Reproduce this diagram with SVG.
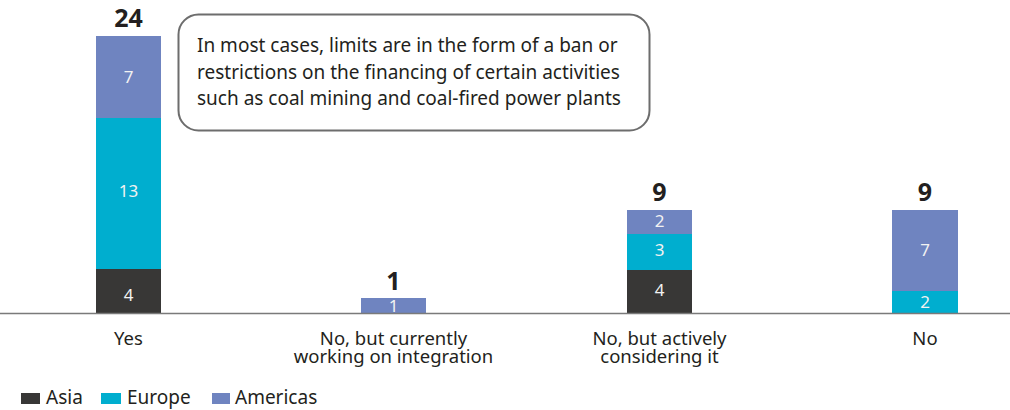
<svg xmlns="http://www.w3.org/2000/svg" width="1010" height="410" viewBox="0 0 1010 410">
<style>
.asia{fill:#383736}
.eur{fill:#00AECF}
.am{fill:#6F84C0}
.val{font-family:"Noto Sans","Open Sans",sans-serif;font-size:17px;fill:#f2f2f2;text-anchor:middle}
.tot{font-family:"Noto Sans","Open Sans",sans-serif;font-size:25px;font-weight:bold;fill:#231f20;text-anchor:middle}
.cat{font-family:"Noto Sans","Open Sans",sans-serif;font-size:18.5px;fill:#231f20;text-anchor:middle}
.leg{font-family:"Noto Sans","Open Sans",sans-serif;font-size:19px;fill:#231f20}
.note{font-family:"Noto Sans","Open Sans",sans-serif;font-size:19px;fill:#231f20}
</style>
<rect width="1010" height="410" fill="#ffffff"/>
<g id="bar-yes">
<rect class="asia" x="96" y="269" width="65" height="44"/>
<rect class="eur" x="96" y="118" width="65" height="151"/>
<rect class="am" x="96" y="36" width="65" height="82"/>
<text class="val" x="128.5" y="301">4</text>
<text class="val" x="128.5" y="197">13</text>
<text class="val" x="128.5" y="83">7</text>
<text class="tot" x="128.5" y="27">24</text>
<text class="cat" x="128.5" y="345">Yes</text>
</g>
<g id="bar-working">
<rect class="am" x="361" y="298" width="65" height="15"/>
<text class="val" x="393.5" y="312">1</text>
<text class="tot" x="393.5" y="290">1</text>
<text class="cat" x="393.5" y="345">No, but currently</text>
<text class="cat" x="393.5" y="363">working on integration</text>
</g>
<g id="bar-considering">
<rect class="asia" x="627" y="270" width="65" height="43"/>
<rect class="eur" x="627" y="234" width="65" height="36"/>
<rect class="am" x="627" y="210" width="65" height="24"/>
<text class="val" x="659.5" y="296">4</text>
<text class="val" x="659.5" y="256">3</text>
<text class="val" x="659.5" y="227">2</text>
<text class="tot" x="659.5" y="201">9</text>
<text class="cat" x="659.5" y="345">No, but actively</text>
<text class="cat" x="659.5" y="363">considering it</text>
</g>
<g id="bar-no">
<rect class="eur" x="892" y="291" width="66" height="22"/>
<rect class="am" x="892" y="210" width="66" height="81"/>
<text class="val" x="925" y="308">2</text>
<text class="val" x="925" y="256">7</text>
<text class="tot" x="925" y="201">9</text>
<text class="cat" x="925" y="345">No</text>
</g>
<g id="axis">
<line x1="0" y1="313.5" x2="1010" y2="313.5" stroke="#7a7a7a" stroke-width="1.5"/>
</g>
<g id="callout">
<rect x="178.5" y="14.5" width="471" height="116" rx="20" ry="20" fill="#ffffff" stroke="#6d6d6d" stroke-width="2"/>
<text class="note" x="197" y="52">In most cases, limits are in the form of a ban or</text>
<text class="note" x="197" y="78.5">restrictions on the financing of certain activities</text>
<text class="note" x="197" y="105">such as coal mining and coal-fired power plants</text>
</g>
<g id="legend">
<rect class="asia" x="21" y="393" width="19" height="11"/>
<text class="leg" x="46" y="404">Asia</text>
<rect class="eur" x="101" y="393" width="20" height="11"/>
<text class="leg" x="127" y="404">Europe</text>
<rect class="am" x="212" y="393" width="18" height="11"/>
<text class="leg" x="235" y="404">Americas</text>
</g>
</svg>
